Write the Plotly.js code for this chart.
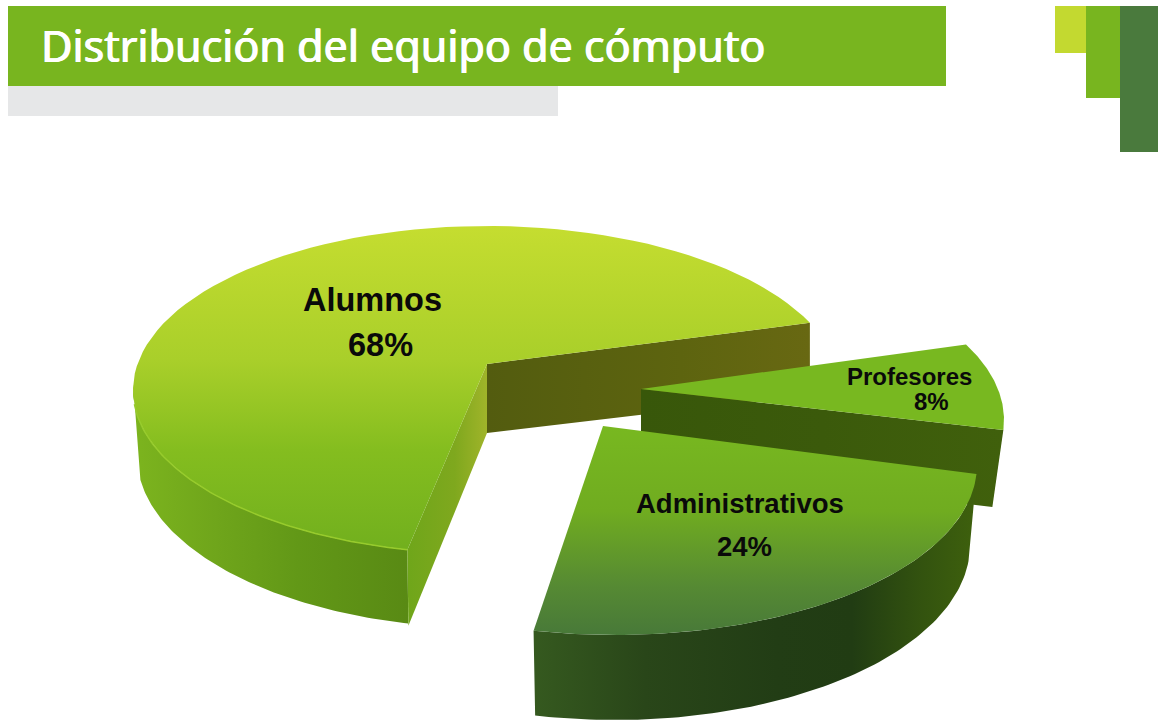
<!DOCTYPE html>
<html>
<head>
<meta charset="utf-8">
<script src="https://cdn.plot.ly/plotly-3.0.1.min.js"></script>
<style>html,body{margin:0;padding:0;background:#fff;overflow:hidden}#chart{width:1158px;height:721px}</style>
</head>
<body>
<div id="chart"></div>
<script>
// Data
var tituloTexto = 'Distribución del equipo de cómputo';
var categorias = ['Alumnos', 'Administrativos', 'Profesores'];
var porcentajes = [68, 24, 8];

// Drawing style: perspective ellipses and colours of each slice
var inicioAngulo = [24.2, 257, -3.4];
var escalaAngulo = [0.951, 1.157, 1.035];
var vertice = [[487, 364], [603, 426], [641, 389]];
var verticeBajo = [[487, 433], [603, 500], [641, 465]];
var elipseSup = [[487, 390, 354, 164], [615, 465, 362, 170], [640, 420, 364, 170]];
var elipseInf = [[487, 456, 350, 172], [615, 545, 355, 175], [631, 497, 362, 170]];

function arc(e, t0, t1) {
  var xs = [], ys = [], n = 90;
  for (var i = 0; i <= n; i++) {
    var t = (t0 + (t1 - t0) * i / n) * Math.PI / 180;
    xs.push(e[0] + e[2] * Math.cos(t));
    ys.push(e[1] - e[3] * Math.sin(t));
  }
  return {x: xs, y: ys};
}
function capa(name, x, y, tipo, a, b, stops, hover) {
  return {
    type: 'scatter', mode: 'lines', name: name, x: x, y: y, fill: 'toself',
    line: {width: 0, color: 'rgba(0,0,0,0)'}, showlegend: false,
    hoverinfo: hover ? 'text' : 'skip', text: hover || '',
    hoveron: 'fills',
    fillgradient: {type: tipo, start: a, stop: b, colorscale: stops}
  };
}
function borde(p, color) {
  return {type: 'scatter', mode: 'lines', x: p.x, y: p.y, showlegend: false, hoverinfo: 'skip',
    line: {width: 1.5, color: color}};
}
function angulos(i) {
  var span = porcentajes[i] / 100 * 360 * escalaAngulo[i];
  return [inicioAngulo[i], inicioAngulo[i] + span];
}
var trazas = [];

// Alumnos
(function () {
  var i = 0, a = angulos(i), top = arc(elipseSup[i], a[0], a[1]);
  var tInf = arc(elipseSup[i], 178, a[1]), bInf = arc(elipseInf[i], a[1], 188);
  trazas.push(capa('pared', tInf.x.concat(bInf.x), tInf.y.concat(bInf.y), 'horizontal', 135, 407,
    [[0, '#7cb41e'], [0.3, '#6fa51b'], [0.6, '#629817'], [1, '#598a14']]));
  var n = top.x.length - 1;
  trazas.push(capa('pared', [vertice[i][0], top.x[0], top.x[0], verticeBajo[i][0]],
    [vertice[i][1], top.y[0], top.y[0] + 72, verticeBajo[i][1]], 'horizontal', 487, 810,
    [[0, '#535c0f'], [0.6, '#5d640f'], [1, '#686812']]));
  trazas.push(capa('pared', [vertice[i][0], verticeBajo[i][0], top.x[n] + 1, top.x[n]],
    [vertice[i][1], verticeBajo[i][1], top.y[n] + 76, top.y[n]], 'horizontal', 407, 487,
    [[0, '#6fa61a'], [0.6, '#7fa81e'], [1, '#a0b42a']]));
  trazas.push(capa(categorias[i], [vertice[i][0]].concat(top.x), [vertice[i][1]].concat(top.y), 'vertical', 226, 547,
    [[0, '#c5dd30'], [0.417, '#a9cf2a'], [0.7, '#84bd1f'], [1, '#72b01e']], categorias[i] + ' ' + porcentajes[i] + '%'));
  trazas.push(borde(arc(elipseSup[i], 185, a[1]), '#97cb2c'));
})();

// Profesores
(function () {
  var i = 2, a = angulos(i), top = arc(elipseSup[i], a[0], a[1]), low = arc(elipseInf[i], a[0], a[1]);
  trazas.push(capa('pared', [vertice[i][0], top.x[0], low.x[0], verticeBajo[i][0]],
    [vertice[i][1], top.y[0], low.y[0], verticeBajo[i][1]], 'horizontal', 641, 1003,
    [[0, '#38570a'], [0.5, '#3b5a0b'], [1, '#40600c']]));
  trazas.push(capa(categorias[i], [vertice[i][0]].concat(top.x), [vertice[i][1]].concat(top.y), 'vertical', 347, 432,
    [[0, '#78b820'], [1, '#78b820']], categorias[i] + ' ' + porcentajes[i] + '%'));
})();

// Administrativos
(function () {
  var i = 1, a = angulos(i), top = arc(elipseSup[i], a[0], a[1]), low = arc(elipseInf[i], a[1], a[0]);
  trazas.push(capa('pared', top.x.concat(low.x), top.y.concat(low.y), 'horizontal', 535, 975,
    [[0, '#35591f'], [0.25, '#294619'], [0.55, '#223d15'], [0.72, '#213c13'], [0.88, '#33530f'], [1, '#3e600d']]));
  trazas.push(capa(categorias[i], [vertice[i][0]].concat(top.x), [vertice[i][1]].concat(top.y), 'vertical', 426, 638,
    [[0, '#78b820'], [0.4, '#70ac20'], [0.75, '#568a33'], [1, '#477839']], categorias[i] + ' ' + porcentajes[i] + '%'));
})();

var etiquetas = [
  {i: 0, x: 372.5, y: 300, xp: 380, yp: 345, s: 32.5},
  {i: 1, x: 740, y: 503, xp: 744.5, yp: 546, s: 27.5},
  {i: 2, x: 909, y: 376, xp: 931, yp: 401, s: 24}
];
var anotaciones = [{
  x: 39, y: 45, xref: 'x', yref: 'y', xanchor: 'left', yanchor: 'middle', showarrow: false,
  text: tituloTexto,
  font: {family: '"Noto Sans", sans-serif', size: 43, color: '#fff', shadow: '0.7px 0 0 #fff, -0.4px 0 0 #fff'}
}];
etiquetas.forEach(function (e) {
  anotaciones.push({x: e.x, y: e.y, xref: 'x', yref: 'y', showarrow: false,
    text: '<b>' + categorias[e.i] + '</b>', font: {family: '"Liberation Sans", Arial, sans-serif', size: e.s, color: '#0a0a0a'}});
  anotaciones.push({x: e.xp, y: e.yp, xref: 'x', yref: 'y', showarrow: false,
    text: '<b>' + porcentajes[e.i] + '%</b>', font: {family: '"Liberation Sans", Arial, sans-serif', size: e.s, color: '#0a0a0a'}});
});

function rect(x0, y0, x1, y1, c) {
  return {type: 'rect', xref: 'x', yref: 'y', x0: x0, y0: y0, x1: x1, y1: y1, fillcolor: c, line: {width: 0}, layer: 'below'};
}
var layout = {
  width: 1158, height: 721, margin: {l: 0, r: 0, t: 0, b: 0},
  paper_bgcolor: '#fff', plot_bgcolor: '#fff', showlegend: false,
  xaxis: {range: [0, 1158], visible: false, fixedrange: true},
  yaxis: {range: [721, 0], visible: false, fixedrange: true},
  shapes: [
    rect(8, 6, 946, 86, '#78b51f'),
    rect(8, 86, 558, 116, '#e6e7e8'),
    rect(1055, 6, 1086, 53, '#c3d930'),
    rect(1086, 6, 1120, 98, '#78b51f'),
    rect(1120, 6, 1158, 152, '#4a7a3d')
  ],
  annotations: anotaciones
};
Plotly.newPlot('chart', trazas, layout, {displayModeBar: false, responsive: false});
</script>
</body>
</html>
